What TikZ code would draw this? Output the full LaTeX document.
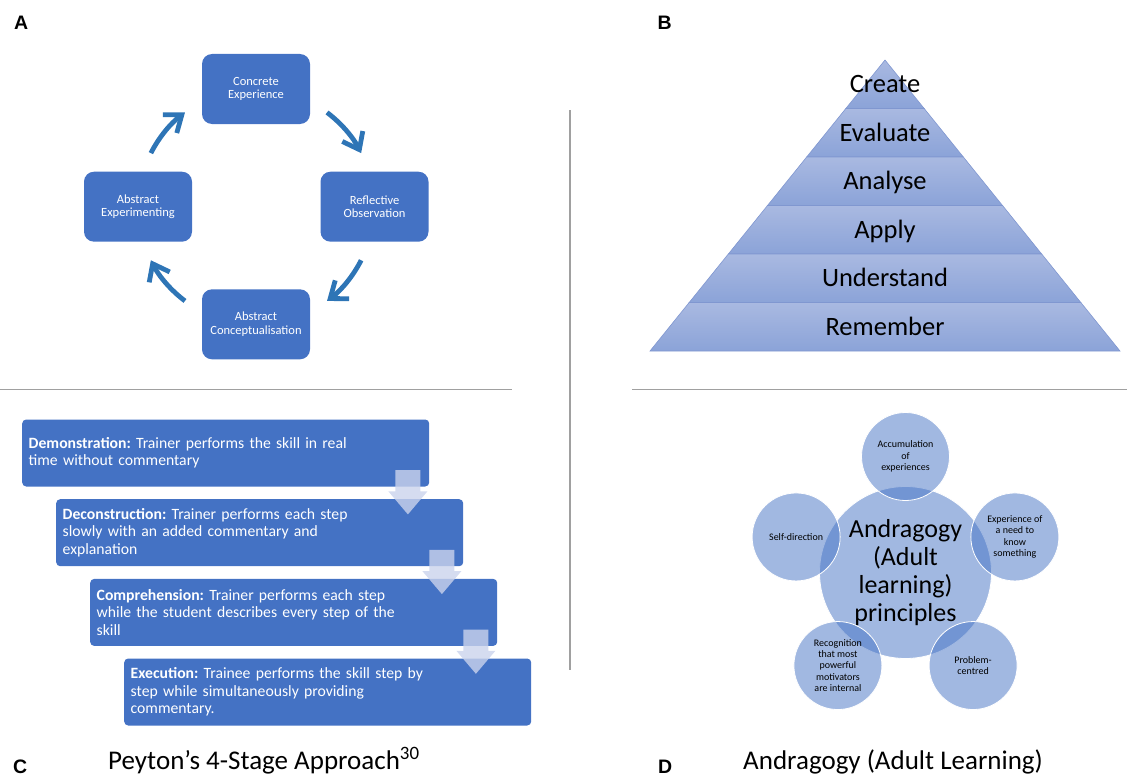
\documentclass[tikz,border=0pt]{standalone}
\usepackage{fontspec}
\setmainfont{Carlito}
\newfontfamily\labfont{Liberation Sans}
\usetikzlibrary{arrows.meta,calc}
\definecolor{ofblue}{HTML}{4472C4}
\definecolor{arrblue}{HTML}{2E75B6}
\definecolor{pyrtop}{HTML}{A9B9E1}
\definecolor{pyrbot}{HTML}{8BA3D8}
\definecolor{pyredge}{HTML}{8097D0}
\definecolor{stepdown}{HTML}{CAD3EC}
\definecolor{divgray}{HTML}{A0A0A0}
\frenchspacing
\begin{document}
\begin{tikzpicture}[x=1pt,y=1pt,
  panellabel/.style={anchor=base west, inner sep=0pt, font=\labfont\bfseries\fontsize{19.5}{19.5}\selectfont},
  cyclebox/.style={rectangle, rounded corners=10pt, fill=ofblue, minimum width=108pt, minimum height=70pt, text=white, align=center, font=\fontsize{12.5}{13.6}\selectfont, inner sep=0pt},
  cyclearrow/.style={draw=arrblue, line width=4.8pt, -{Straight Barb[length=15pt,width=23pt]}},
  divider/.style={draw=divgray, line width=1.5pt},
  pyrtext/.style={anchor=base, inner sep=0pt, font=\fontsize{26.5}{28}\selectfont},
  stepbox/.style={rectangle, rounded corners=4pt, fill=ofblue, text=white, minimum height=67pt, text width=394pt, inner xsep=6.5pt, inner ysep=0pt, align=left, anchor=north west, font=\fontsize{15.7}{17.4}\selectfont},
  downarrow/.style={fill=stepdown, fill opacity=0.8},
  bigcirc/.style={circle, minimum size=172pt, inner sep=0pt, fill=ofblue, fill opacity=0.5, text opacity=1, draw=white, line width=0.8pt, align=center, font=\fontsize{26}{28}\selectfont},
  smallcirc/.style={circle, minimum size=88pt, inner sep=0pt, fill=ofblue, fill opacity=0.5, text opacity=1, draw=white, line width=0.8pt, align=center, font=\fontsize{10}{11.4}\selectfont},
  titletext/.style={anchor=base west, inner sep=0pt, font=\fontsize{27}{30}\selectfont}
]
\useasboundingbox (0,0) rectangle (1127,-776);

% panel labels
\node[panellabel] (labA) at (14,-30) {A};
\node[panellabel] (labB) at (657.5,-30) {B};
\node[panellabel] (labC) at (13,-773) {C};
\node[panellabel] (labD) at (658,-773) {D};

% dividers
\draw[divider] (0,-389.5) -- (512,-389.5);
\draw[divider] (632,-389.5) -- (1127,-389.5);
\draw[divider] (570,-110) -- (570,-670);

% ---------- A: cycle ----------
\coordinate (cyc) at (256,-206.7);
\node[cyclebox] (ce) at (256,-89) {Concrete\\Experience};
\node[cyclebox] (ro) at (374.5,-206.7) {Reflective\\Observation};
\node[cyclebox] (ac) at (256,-324.3) {Abstract\\Conceptualisation};
\node[cyclebox] (ae) at (138,-206.7) {Abstract\\Experimenting};
\coordinate (a1) at ($(cyc)+(53:118)$);
\coordinate (a2) at ($(cyc)+(-27:118)$);
\coordinate (a3) at ($(cyc)+(233:118)$);
\coordinate (a4) at ($(cyc)+(153:118)$);
\draw[cyclearrow] (a1) arc[start angle=53, end angle=27, radius=118];
\draw[cyclearrow] (a2) arc[start angle=-27, end angle=-53, radius=118];
\draw[cyclearrow] (a3) arc[start angle=233, end angle=207, radius=118];
\draw[cyclearrow] (a4) arc[start angle=153, end angle=127, radius=118];

% ---------- B: pyramid ----------
\foreach \k/\txt in {0/Create,1/Evaluate,2/Analyse,3/Apply,4/Understand,5/Remember} {
  \pgfmathsetmacro\yt{-60-48.5*\k}
  \pgfmathsetmacro\yb{-60-48.5*(\k+1)}
  \pgfmathsetmacro\wt{235*\k/6}
  \pgfmathsetmacro\wb{235*(\k+1)/6}
  \pgfmathsetmacro\ym{(\yt+\yb)/2-8.5}
  \shadedraw[top color=pyrtop, bottom color=pyrbot, draw=pyredge, line width=0.6pt]
    (885-\wt,\yt) -- (885+\wt,\yt) -- (885+\wb,\yb) -- (885-\wb,\yb) -- cycle;
  \node[pyrtext] (pyr\k) at (885,\ym) {\txt};
}

% ---------- C: Peyton ----------
\node[stepbox] (s1) at (22,-419.3) {\textbf{Demonstration:} Trainer performs the skill in real\\time without commentary};
\node[stepbox] (s2) at (56,-499) {\textbf{Deconstruction:} Trainer performs each step\\slowly with an added commentary and\\explanation};
\node[stepbox] (s3) at (90,-578.7) {\textbf{Comprehension:} Trainer performs each step\\while the student describes every step of the\\skill};
\node[stepbox] (s4) at (124,-658.3) {\textbf{Execution:} Trainee performs the skill step by\\step while simultaneously providing\\commentary.};
\foreach \b in {s1,s2,s3} {
  \fill[downarrow] ($(\b.south east)+(-34,16.5)$) -- ++(25,0) -- ++(0,-21.2) -- ++(7,0)
    -- ++(-19.5,-23) -- ++(-19.5,23) -- ++(7,0) -- cycle;
}
\node[titletext] (tc) at (108,-769) {Peyton’s 4-Stage Approach\textsuperscript{30}};

% ---------- D: Andragogy ----------
\coordinate (dc) at (905.5,-572.5);
\node[bigcirc] (core) at (dc) {Andragogy\\(Adult\\learning)\\principles};
\node[smallcirc] (acc) at ($(dc)+(90:116)$) {Accumulation\\of\\experiences};
\node[smallcirc] (need) at ($(dc)+(18:115)$) {Experience of\\a need to\\know\\something};
\node[smallcirc] (prob) at ($(dc)+(-54:115)$) {Problem-\\centred};
\node[smallcirc] (reco) at ($(dc)+(-126:115)$) {Recognition\\that most\\powerful\\motivators\\are internal};
\node[smallcirc] (self) at ($(dc)+(162:115)$) {Self-direction};
\node[titletext] (td) at (743,-769) {Andragogy (Adult Learning)};
\end{tikzpicture}
\end{document}
